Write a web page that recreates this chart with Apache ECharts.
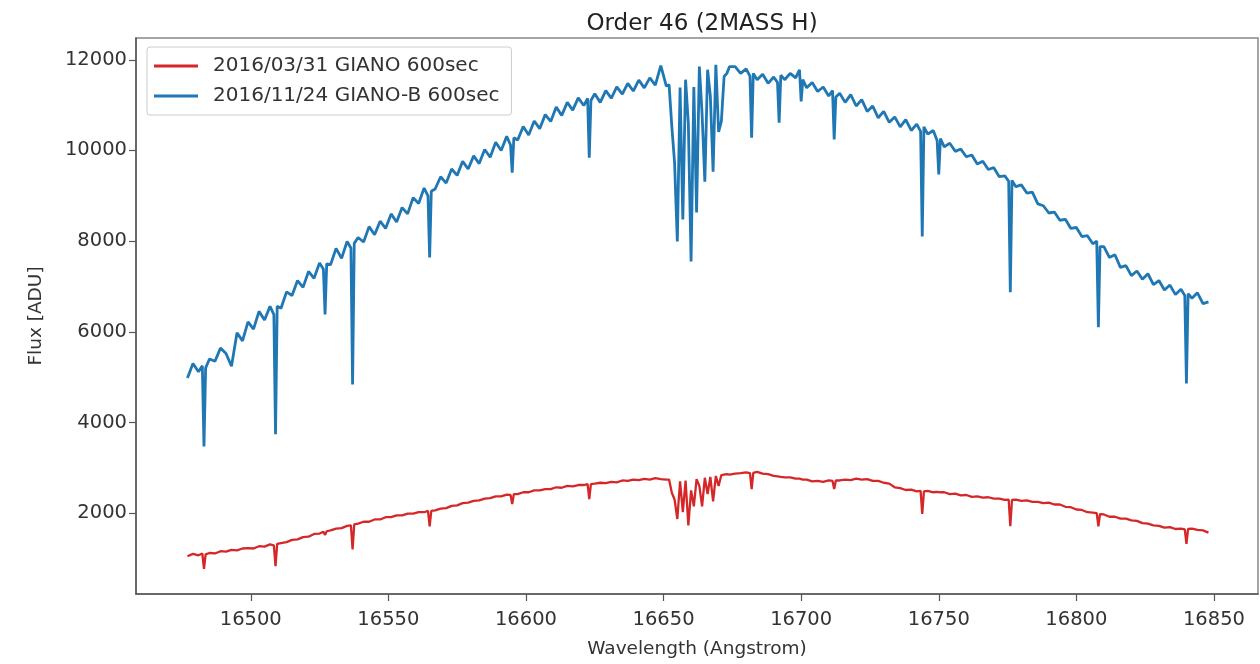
<!DOCTYPE html>
<html>
<head>
<meta charset="utf-8">
<script src="https://cdn.jsdelivr.net/npm/echarts@6/dist/echarts.min.js"></script>
<style>
  html, body { margin: 0; padding: 0; background: #fff; }
  #chart { width: 1260px; height: 664px; }
</style>
</head>
<body>
<div id="chart"></div>
<script>
// wavelength samples (Angstrom)
const wavelength = [
  16477,16479,16481,16482.4,16483,16483.6,16485,16487,16489,16491,
  16493,16495,16497,16499,16501,16503,16505,16507,16508.4,16509,
  16509.6,16511,16513,16515,16517,16519,16521,16523,16525,16526.4,
  16527,16527.6,16529,16531,16533,16535,16536.4,16537,16537.6,16539,
  16541,16543,16545,16547,16549,16551,16553,16555,16557,16559,
  16561,16563,16564.4,16565,16565.6,16567,16569,16571,16573,16575,
  16577,16579,16581,16583,16585,16587,16589,16591,16593,16594.4,
  16595,16595.6,16597,16599,16601,16603,16605,16607,16609,16611,
  16613,16615,16617,16619,16621,16622.4,16623,16623.6,16625,16627,
  16629,16631,16633,16635,16637,16639,16641,16643,16645,16647,
  16649,16651,
  16652,16653,16654,16655,16656,16657,16658,16659,16660,16661,
  16662,16663,16664,16665,16666,16667,16668,16669,16670,16671,
  16672,16673,16674,
  16676,16678,16680,16681.4,16682,16682.6,16684,16686,16688,16690,
  16691.4,16692,16692.6,16694,16696,16698,16699.4,16700,16700.6,16702,
  16704,16706,16708,16710,16711.4,16712,16712.6,16714,16716,16718,
  16720,16722,16724,16726,16728,16730,16732,16734,16736,16738,
  16740,16742,16743.4,16744,16744.6,16746,16748,16749.4,16750,16750.6,
  16752,16754,16756,16758,16760,16762,16764,16766,16768,16770,
  16772,16774,16775.4,16776,16776.6,16778,16780,16782,16784,16786,
  16788,16790,16792,16794,16796,16798,16800,16802,16804,16806,
  16807.4,16808,16808.6,16810,16812,16814,16816,16818,16820,16822,
  16824,16826,16828,16830,16832,16834,16836,16838,16839.4,16840,
  16840.6,16842,16844,16846,16848
];

// 2016/03/31 GIANO 600sec
const fluxGiano = [
  1050,1100,1070,1110,770,1090,1120,1110,1160,1150,
  1190,1180,1220,1230,1220,1270,1260,1310,1290,830,
  1320,1340,1360,1410,1420,1470,1480,1540,1550,1590,
  1520,1600,1620,1660,1670,1720,1730,1200,1750,1770,
  1810,1810,1860,1860,1910,1910,1950,1950,1990,1990,
  2020,2020,2050,1710,2050,2060,2100,2110,2160,2170,
  2220,2230,2270,2280,2320,2330,2370,2370,2410,2400,
  2200,2420,2420,2460,2460,2500,2500,2530,2530,2570,
  2560,2600,2590,2620,2620,2640,2310,2640,2650,2670,
  2660,2690,2680,2720,2710,2740,2730,2755,2740,2770,
  2750,2740,
  2740,2450,2300,1870,2700,2020,2720,1730,2500,2150,
  2750,2600,2150,2780,2420,2800,2260,2820,2600,2840,
  2850,2860,2850,
  2870,2880,2900,2880,2530,2890,2910,2870,2860,2820,
  2810,2800,2800,2790,2790,2760,2760,2740,2740,2740,
  2700,2710,2690,2720,2710,2530,2720,2720,2740,2730,
  2760,2740,2750,2710,2710,2670,2650,2570,2550,2510,
  2520,2480,2490,1980,2480,2490,2460,2470,2460,2460,
  2460,2420,2430,2390,2400,2360,2370,2340,2350,2320,
  2320,2290,2300,1710,2290,2300,2270,2280,2250,2250,
  2220,2230,2190,2190,2140,2130,2080,2070,2020,2010,
  2000,1710,1980,1970,1920,1920,1880,1880,1840,1830,
  1780,1770,1730,1720,1680,1690,1650,1660,1640,1320,
  1650,1660,1630,1620,1570
];

// 2016/11/24 GIANO-B 600sec
const fluxGianoB = [
  4980,5300,5120,5250,3470,5200,5400,5350,5640,5520,
  5240,5980,5800,6220,6060,6450,6260,6560,6380,3740,
  6560,6520,6880,6800,7130,6980,7330,7180,7520,7380,
  6380,7500,7480,7840,7620,7990,7850,4840,7950,8080,
  7980,8320,8140,8440,8280,8600,8420,8740,8600,8960,
  8830,9170,9000,7640,9100,9150,9420,9280,9590,9450,
  9760,9590,9880,9710,10020,9850,10180,10000,10310,10120,
  9510,10280,10230,10530,10340,10650,10480,10790,10640,10960,
  10770,11060,10890,11160,10990,11150,9840,11100,11250,11060,
  11320,11150,11400,11240,11480,11310,11550,11380,11600,11440,
  11870,11420,
  11450,10530,9730,7990,11390,8475,11560,10600,7550,11400,
  8630,11850,10800,9310,11780,11200,9530,11890,10410,10640,
  11630,11700,11850,
  11850,11700,11800,11640,10280,11700,11560,11680,11480,11620,
  11500,10610,11660,11560,11700,11600,11780,11080,11560,11380,
  11500,11300,11400,11200,11320,10240,11180,11260,11060,11230,
  10980,11120,10860,10980,10720,10860,10620,10740,10520,10680,
  10440,10580,10420,8100,10520,10360,10440,10220,9470,10260,
  10080,10160,9980,10030,9860,9900,9700,9760,9580,9620,
  9420,9440,9320,6870,9340,9200,9240,9060,9080,8820,
  8780,8620,8640,8460,8480,8280,8300,8100,8120,7940,
  8000,6100,7880,7880,7640,7700,7420,7460,7240,7340,
  7160,7280,7040,7130,6920,7030,6820,6940,6800,4860,
  6840,6740,6860,6620,6660
];

const xTicks = [16500, 16550, 16600, 16650, 16700, 16750, 16800, 16850];
const yTicks = [2000, 4000, 6000, 8000, 10000, 12000];

const font = 'DejaVu Sans';
const chart = echarts.init(document.getElementById('chart'));

function pairs(flux) {
  return wavelength.map(function (w, i) { return [w, flux[i]]; });
}
function plain(v) { return String(v); }

chart.setOption({
  animation: false,
  backgroundColor: '#fff',
  title: {
    text: 'Order 46 (2MASS H)',
    left: 697,
    textAlign: 'center',
    top: 8,
    textStyle: { fontFamily: font, fontSize: 23, fontWeight: 'normal', color: '#222' }
  },
  legend: {
    left: 147,
    top: 47,
    orient: 'vertical',
    itemWidth: 44,
    itemHeight: 3,
    itemGap: 8,
    padding: [8, 12, 8, 7],
    borderColor: '#ccc',
    borderWidth: 1,
    borderRadius: 3,
    backgroundColor: 'rgba(255,255,255,0.8)',
    textStyle: { fontFamily: font, fontSize: 20, color: '#333', lineHeight: 22, padding: [0, 0, 0, 10] },
    data: [
      { name: '2016/03/31 GIANO 600sec', icon: 'rect' },
      { name: '2016/11/24 GIANO-B 600sec', icon: 'rect' }
    ]
  },
  grid: {
    left: 136, right: 2, top: 38, bottom: 69,
    show: true, borderColor: '#888', borderWidth: 1.5
  },
  xAxis: {
    type: 'value',
    min: 16458.3,
    max: 16866,
    name: 'Wavelength (Angstrom)',
    nameLocation: 'middle',
    nameGap: 46,
    nameTextStyle: { fontFamily: font, fontSize: 18.5, color: '#333' },
    axisLine: { onZero: false, lineStyle: { color: '#555', width: 1.5 } },
    axisTick: { customValues: xTicks, length: 7, lineStyle: { color: '#555', width: 1.2 } },
    axisLabel: { customValues: xTicks, formatter: plain, margin: 16, fontFamily: font, fontSize: 19.5, color: '#333' },
    splitLine: { show: false }
  },
  yAxis: {
    type: 'value',
    min: 216,
    max: 12480,
    name: 'Flux [ADU]',
    nameLocation: 'middle',
    nameGap: 90,
    nameTextStyle: { fontFamily: font, fontSize: 18.5, color: '#333' },
    axisLine: { show: true, onZero: false, lineStyle: { color: '#555', width: 1.5 } },
    axisTick: { show: true, customValues: yTicks, length: 7, lineStyle: { color: '#555', width: 1.2 } },
    axisLabel: { customValues: yTicks, formatter: plain, margin: 9, fontFamily: font, fontSize: 19.5, color: '#333' },
    splitLine: { show: false }
  },
  series: [
    {
      name: '2016/03/31 GIANO 600sec',
      type: 'line',
      data: pairs(fluxGiano),
      showSymbol: false,
      color: '#d62728',
      lineStyle: { width: 2.3, color: '#d62728' }
    },
    {
      name: '2016/11/24 GIANO-B 600sec',
      type: 'line',
      data: pairs(fluxGianoB),
      showSymbol: false,
      color: '#1f77b4',
      lineStyle: { width: 2.8, color: '#1f77b4' }
    }
  ]
});
</script>
</body>
</html>
